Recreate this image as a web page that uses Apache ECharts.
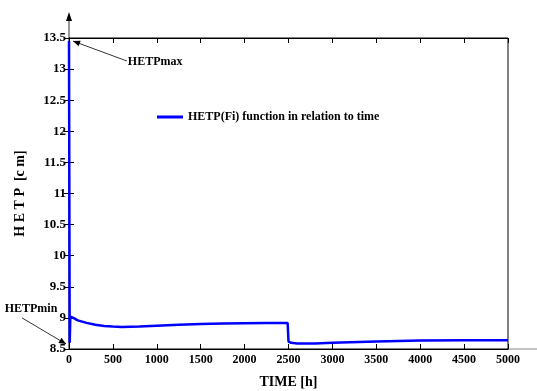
<!DOCTYPE html>
<html><head><meta charset="utf-8">
<script src="https://cdn.jsdelivr.net/npm/echarts@6/dist/echarts.min.js"></script>
<style>html,body{margin:0;padding:0;background:#fff}#c{width:537px;height:391px}</style>
</head><body><div id="c"></div>
<script>
var timeH = [0, 8, 15, 50, 100, 200, 300, 400, 500, 600, 800, 1000, 1250, 1500, 1750, 2000, 2250, 2490, 2500, 2530, 2600, 2800, 3000, 3500, 4000, 4500, 5000];
var hetp  = [13.45, 8.6, 9.02, 9.0, 8.96, 8.92, 8.89, 8.87, 8.86, 8.855, 8.86, 8.875, 8.89, 8.9, 8.91, 8.915, 8.92, 8.92, 8.62, 8.6, 8.59, 8.59, 8.6, 8.62, 8.635, 8.64, 8.64];
var yTicks = [8.5, 9, 9.5, 10, 10.5, 11, 11.5, 12, 12.5, 13, 13.5];
var xTicks = [0, 500, 1000, 1500, 2000, 2500, 3000, 3500, 4000, 4500, 5000];
var seriesName = 'HETP(Fi) function in relation to time';

var F = '"Liberation Serif","Times New Roman",serif';
var chart = echarts.init(document.getElementById('c'));
var data = timeH.map(function(t, i){ return [t, hetp[i]]; });
var axBase = {
  type: 'value',
  axisLine: {show: true, lineStyle: {color: '#000', width: 1}},
  axisTick: {show: true, inside: true, length: 5, lineStyle: {color: '#000'}},
  splitLine: {show: false}
};
chart.setOption({
  animation: false,
  grid: {left: 69, right: 29, top: 38, bottom: 42, show: true, borderColor: '#000', borderWidth: 1,
         containLabel: false, outerBoundsMode: 'none'},
  legend: {
    left: 152, top: 106, icon: 'rect', itemWidth: 26, itemHeight: 3, itemGap: 4,
    textStyle: {fontFamily: F, fontWeight: 'bold', fontSize: 12, color: '#000'},
    data: [seriesName]
  },
  xAxis: [
    Object.assign({}, axBase, {
      min: xTicks[0], max: xTicks[xTicks.length-1], interval: 500,
      name: 'TIME [h]', nameLocation: 'middle', nameGap: 26,
      nameTextStyle: {fontFamily: F, fontWeight: 'bold', fontSize: 14, color: '#000'},
      axisLabel: {fontFamily: F, fontWeight: 'bold', fontSize: 12, color: '#000', margin: 5,
        formatter: function(v){ return String(v); }}
    }),
    Object.assign({}, axBase, {
      position: 'top', min: xTicks[0], max: xTicks[xTicks.length-1], interval: 500,
      axisLabel: {show: false}
    })
  ],
  yAxis: [
    Object.assign({}, axBase, {
      min: yTicks[0], max: yTicks[yTicks.length-1], interval: 0.5,
      name: 'H E T P  [c m]', nameLocation: 'middle', nameGap: 42, nameRotate: 90,
      nameTextStyle: {fontFamily: F, fontWeight: 'bold', fontSize: 14, color: '#000'},
      axisLabel: {fontFamily: F, fontWeight: 'bold', fontSize: 13, color: '#000', margin: 3,
        formatter: function(v){ return String(v); }}
    }),
    Object.assign({}, axBase, {
      position: 'right', min: yTicks[0], max: yTicks[yTicks.length-1], interval: 0.5,
      axisLabel: {show: false}
    })
  ],
  series: [{
    name: seriesName, type: 'line', data: data, symbol: 'none', smooth: false,
    lineStyle: {color: '#0000ff', width: 2.5}, itemStyle: {color: '#0000ff'}
  }]
});

function P(x, y){ return chart.convertToPixel({gridIndex: 0}, [x, y]); }
function arrow(from, to){
  var dx = to[0]-from[0], dy = to[1]-from[1], L = Math.sqrt(dx*dx+dy*dy);
  var ux = dx/L, uy = dy/L, h = 7, w = 3;
  var bx = to[0]-ux*h, by = to[1]-uy*h;
  return [
    {type: 'line', shape: {x1: from[0], y1: from[1], x2: to[0], y2: to[1]}, style: {stroke: '#000', lineWidth: 0.8}},
    {type: 'polygon', shape: {points: [[to[0], to[1]], [bx - uy*w, by + ux*w], [bx + uy*w, by - ux*w]]}, style: {fill: '#000'}}
  ];
}
var g = [];
var o = P(0, 13.5), top0 = [o[0], 12];
g.push({type: 'line', shape: {x1: o[0], y1: o[1], x2: top0[0], y2: top0[1]+4}, style: {stroke: '#333', lineWidth: 1}});
g.push({type: 'polygon', shape: {points: [[top0[0], top0[1]], [top0[0]-3, top0[1]+9], [top0[0]+3, top0[1]+9]]}, style: {fill: '#000'}});
var r = P(5000, 8.5);
g.push({type: 'line', shape: {x1: r[0], y1: r[1], x2: 537, y2: r[1]}, style: {stroke: '#888', lineWidth: 1}});
g = g.concat(arrow(P(660, 13.13), P(46, 13.45)));
var t1 = P(670, 13.11);
g.push({type: 'text', x: t1[0], y: t1[1], style: {text: 'HETPmax', font: 'bold 12px ' + F, fill: '#000', textAlign: 'left', textVerticalAlign: 'middle'}});
g = g.concat(arrow(P(-535, 9.0), P(-34, 8.58)));
var t2 = P(-433, 9.14);
g.push({type: 'text', x: t2[0], y: t2[1], style: {text: 'HETPmin', font: 'bold 12px ' + F, fill: '#000', textAlign: 'center', textVerticalAlign: 'middle'}});
chart.setOption({graphic: g});
</script></body></html>
